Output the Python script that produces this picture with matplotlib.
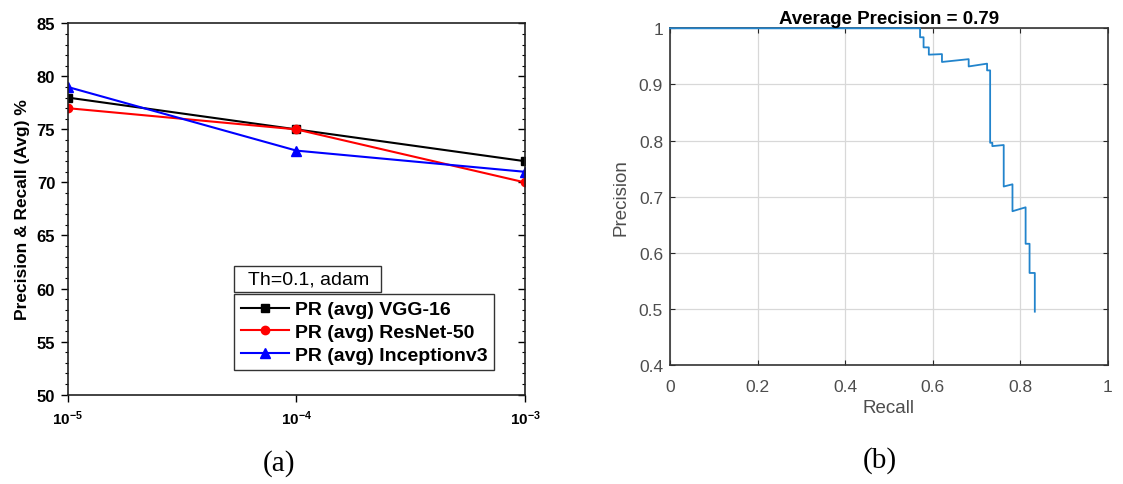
import matplotlib
matplotlib.use("Agg")
import matplotlib.pyplot as plt
from matplotlib.patches import Rectangle
from matplotlib.ticker import MultipleLocator, NullLocator, FuncFormatter

plt.rcParams['font.family'] = ['Liberation Sans', 'DejaVu Sans']
plt.rcParams['mathtext.fontset'] = 'custom'
plt.rcParams['mathtext.rm'] = 'Liberation Sans'
plt.rcParams['mathtext.bf'] = 'Liberation Sans:bold'

# (a) averaged precision/recall vs. learning rate
learning_rates = [1e-5, 1e-4, 1e-3]
lr_labels = [r'$\mathbf{10^{-5}}$', r'$\mathbf{10^{-4}}$', r'$\mathbf{10^{-3}}$']
vgg16 = [78, 75, 72]
resnet50 = [77, 75, 70]
inception_v3 = [79, 73, 71]
series_names = ['PR (avg) VGG-16', 'PR (avg) ResNet-50', 'PR (avg) Inceptionv3']
legend_title = 'Th=0.1, adam'

# (b) precision-recall curve
recall = [0, 0.571, 0.571, 0.579, 0.579, 0.591, 0.591, 0.621, 0.621, 0.682, 0.682,
          0.724, 0.724, 0.731, 0.731, 0.736, 0.736, 0.762, 0.762, 0.782, 0.782,
          0.812, 0.812, 0.821, 0.821, 0.833, 0.833]
precision = [1, 1, 0.984, 0.984, 0.966, 0.966, 0.953, 0.954, 0.940, 0.945, 0.932,
             0.937, 0.925, 0.925, 0.796, 0.796, 0.790, 0.792, 0.718, 0.722, 0.674,
             0.681, 0.616, 0.616, 0.564, 0.564, 0.495]
avg_precision = 0.79

fig = plt.figure(figsize=(11.23, 4.85), dpi=100)

# ---- left panel ----
ax1 = fig.add_axes([0.0603, 0.1843, 0.4072, 0.7656])
ax1.plot(learning_rates, vgg16, color='black', lw=1.5, marker='s', ms=6, label=series_names[0])
ax1.plot(learning_rates, resnet50, color='red', lw=1.5, marker='o', ms=6, label=series_names[1])
ax1.plot(learning_rates, inception_v3, color='blue', lw=1.5, marker='^', ms=7, label=series_names[2])
ax1.set_xscale('log')
ax1.set_xlim(1e-5, 1e-3)
ax1.set_ylim(50, 85)
ax1.set_xticks(learning_rates, lr_labels)
ax1.xaxis.set_minor_locator(NullLocator())
ax1.yaxis.set_major_locator(MultipleLocator(5))
ax1.yaxis.set_minor_locator(MultipleLocator(1))
ax1.tick_params(axis='both', which='major', direction='out', length=5, width=1, pad=4)
ax1.tick_params(axis='y', which='minor', direction='out', length=2.5, width=0.8)
ax1.tick_params(axis='x', labelsize=11, pad=5)
ax1.tick_params(axis='y', labelsize=12)
for lab in ax1.get_yticklabels():
    lab.set_fontweight('bold')
for sp in ax1.spines.values():
    sp.set_linewidth(1.2)
    sp.set_color('#222222')
ax1.set_ylabel('Precision & Recall (Avg) %', fontsize=12.5, fontweight='bold', labelpad=5)

# inward ticks along the right edge
sec = ax1.secondary_yaxis('right')
sec.yaxis.set_major_locator(MultipleLocator(5))
sec.yaxis.set_minor_locator(MultipleLocator(1))
sec.tick_params(which='major', direction='in', length=5, width=1, labelright=False)
sec.tick_params(which='minor', direction='in', length=2.5, width=0.8)
sec.spines['right'].set_visible(False)

# boxed legend header and legend
ax1.add_patch(Rectangle((0.364, 0.277), 0.320, 0.070, transform=ax1.transAxes,
                        facecolor='white', edgecolor='#333333', lw=1.0, zorder=5))
ax1.text(0.394, 0.312, legend_title, transform=ax1.transAxes, fontsize=14,
         va='center', ha='left', zorder=6)
leg = ax1.legend(loc='lower left', bbox_to_anchor=(0.364, 0.066), borderaxespad=0,
                 fancybox=False, edgecolor='#333333', framealpha=1,
                 prop={'weight': 'bold', 'size': 14}, handlelength=2.5,
                 handletextpad=0.3, borderpad=0.33, labelspacing=0.26)
leg.get_frame().set_linewidth(1.0)

# ---- right panel ----
ax2 = fig.add_axes([0.5966, 0.2454, 0.3900, 0.6942])
ax2.plot(recall, precision, color='#2284cc', lw=1.3, zorder=3, clip_on=False)
ax2.set_xlim(0, 1)
ax2.set_ylim(0.4, 1)
ax2.xaxis.set_major_locator(MultipleLocator(0.2))
ax2.yaxis.set_major_locator(MultipleLocator(0.1))
fmt = FuncFormatter(lambda v, _: '%g' % round(v, 2))
ax2.xaxis.set_major_formatter(fmt)
ax2.yaxis.set_major_formatter(fmt)
ax2.grid(True, color='#d8d8d8', lw=0.9)
ax2.set_axisbelow(True)
ax2.tick_params(direction='in', length=3.5, width=0.8, top=True, right=True,
                labelsize=12.5, colors='#262626', labelcolor='#4d4d4d')
ax2.tick_params(axis='x', pad=10)
ax2.tick_params(axis='y', pad=5)
for sp in ax2.spines.values():
    sp.set_linewidth(1.2)
    sp.set_color('#333333')
ax2.set_xlabel('Recall', fontsize=13.5, color='#4d4d4d', labelpad=4)
ax2.set_ylabel('Precision', fontsize=13.5, color='#4d4d4d', labelpad=7)
ax2.set_title('Average Precision = %.2f' % avg_precision, fontsize=13.5, fontweight='bold', pad=4)

# panel captions
fig.text(279 / 1123, 1 - 464 / 485, '(a)', family='Liberation Serif', fontsize=21,
         ha='center', va='center')
fig.text(880 / 1123, 1 - 461 / 485, '(b)', family='Liberation Serif', fontsize=21,
         ha='center', va='center')

fig.savefig('out.png', dpi=100)
